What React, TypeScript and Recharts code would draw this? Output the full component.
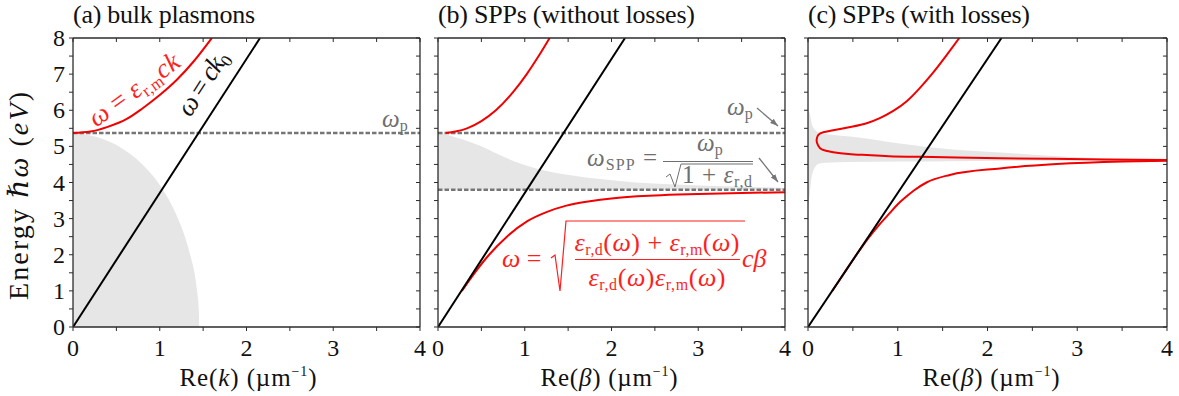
import React from 'react';
import { ComposedChart, Line, Area, XAxis, YAxis, ReferenceLine } from 'recharts';

const FONT = "'Liberation Serif', 'DejaVu Serif', serif";
const AXIS = '#2b2b2b';
const RED = '#f00000';
const RED_TEXT = '#ff1f1f';
const GREY_LINE = '#767676';
const GREY_TEXT = '#6f6f6f';
const FILL = '#e6e6e6';

// energies in eV, wavenumbers in 1/um
const OMEGA_P = 5.37;
const OMEGA_SPP = 3.8;

const X_TICKS = [0, 0.5, 1, 1.5, 2, 2.5, 3, 3.5, 4];
const Y_TICKS = [0, 0.5, 1, 1.5, 2, 2.5, 3, 3.5, 4, 4.5, 5, 5.5, 6, 6.5, 7, 7.5, 8];

// light line w = c k0
const lightK = [0, 2.156];
const lightW = [0, 8];

// (a) bulk plasmons
const bulkK = [0, 0.2, 0.4, 0.62, 0.8, 1.0, 1.2, 1.39, 1.6];
const bulkW = [5.37, 5.41, 5.54, 5.76, 6.05, 6.42, 6.85, 7.35, 8.0];
const bulkGrayK = [0, 0.2, 0.35, 0.53, 0.8, 0.98, 1.11, 1.21, 1.29, 1.35, 1.4, 1.43, 1.45, 1.455];
const bulkGrayW = [5.37, 5.3, 5.2, 5.0, 4.5, 4.0, 3.5, 3.0, 2.5, 2.0, 1.5, 1.0, 0.5, 0];

// (b) SPPs without losses
const sppUpperB = [0.09, 0.2, 0.335, 0.5, 0.667, 0.865, 1.023, 1.16, 1.287];
const sppUpperW = [5.37, 5.41, 5.5, 5.7, 6.0, 6.5, 7.0, 7.5, 8.0];
const sppLowerB = [0.275, 0.423, 0.589, 0.794, 1.03, 1.25, 1.48, 1.75, 2.0, 2.5, 3.0, 3.5, 4.0];
const sppLowerW = [1.0, 1.5, 2.0, 2.5, 2.93, 3.18, 3.36, 3.48, 3.56, 3.64, 3.68, 3.71, 3.73];
const sppGrayB = [0, 0.09, 0.2, 0.36, 0.55, 0.75, 0.94, 1.13, 1.51, 1.9, 2.28, 2.67, 3.1, 3.5, 4.0];
const sppGrayTop = [5.37, 5.33, 5.25, 5.13, 4.95, 4.72, 4.53, 4.39, 4.21, 4.09, 4.0, 3.95, 3.91, 3.88, 3.85];

// (c) SPPs with losses
const lossUpperB = [1.686, 1.53, 1.38, 1.24, 1.1, 0.95, 0.8, 0.654, 0.5, 0.357, 0.25, 0.17, 0.115, 0.097, 0.1, 0.134, 0.2, 0.28, 0.45, 0.654, 0.9, 1.25, 1.66, 2.14, 2.7, 3.3, 4.0];
const lossUpperW = [8.0, 7.48, 7.0, 6.6, 6.25, 5.98, 5.78, 5.64, 5.55, 5.48, 5.43, 5.39, 5.32, 5.2, 5.1, 4.95, 4.88, 4.84, 4.79, 4.76, 4.73, 4.71, 4.69, 4.67, 4.655, 4.635, 4.62];
const lossLowerB = [0.27, 0.4, 0.54, 0.66, 0.8, 0.91, 1.0, 1.09, 1.18, 1.32, 1.58, 2.14, 2.77, 3.51, 4.0];
const lossLowerW = [1.0, 1.48, 2.0, 2.42, 2.85, 3.15, 3.4, 3.6, 3.78, 4.0, 4.21, 4.39, 4.51, 4.58, 4.6];
const lossGrayB = [0, 0.02, 0.04, 0.08, 0.12, 0.2, 0.47, 1.02, 1.58, 2.14, 2.7, 3.3, 4.0];
const lossGrayLo = [3.3, 3.7, 4.15, 4.43, 4.52, 4.55, 4.57, 4.58, 4.59, 4.6, 4.6, 4.61, 4.61];
const lossGrayHi = [6.0, 5.9, 5.65, 5.45, 5.38, 5.34, 5.27, 5.08, 4.92, 4.83, 4.74, 4.67, 4.63];

const pts = (xs: number[], ys: number[]) => xs.map((x, i) => ({ x, y: ys[i] }));
const band = (xs: number[], lo: number[], hi: number[]) => xs.map((x, i) => ({ x, y: [lo[i], hi[i]] }));

const TICK = 4;
const THIN = 0.01; // axes need a non-zero box to be drawn

const bottomTick = (p: any) => (
  <g>
    <line x1={p.x} y1={p.y} x2={p.x} y2={p.y + TICK} stroke={AXIS} strokeWidth={1} />
    {Number.isInteger(p.payload.value) && (
      <text x={p.x} y={p.y + 29} textAnchor="middle" fontSize={24} fontFamily={FONT} fill="#111">
        {p.payload.value}
      </text>
    )}
  </g>
);
const topTick = (p: any) => (
  <line x1={p.x} y1={p.y} x2={p.x} y2={p.y + TICK} stroke={AXIS} strokeWidth={1} />
);
const leftTick = (withLabel: boolean) => (p: any) => (
  <g>
    <line x1={p.x - TICK} y1={p.y} x2={p.x} y2={p.y} stroke={AXIS} strokeWidth={1} />
    {withLabel && Number.isInteger(p.payload.value) && (
      <text x={p.x - 8} y={p.y + 8} textAnchor="end" fontSize={24} fontFamily={FONT} fill="#111">
        {p.payload.value}
      </text>
    )}
  </g>
);
const rightTick = (p: any) => (
  <line x1={p.x - TICK} y1={p.y} x2={p.x} y2={p.y} stroke={AXIS} strokeWidth={1} />
);

const axisLine = { stroke: AXIS, strokeWidth: 1.3 };
const ids = { xAxisId: 'b', yAxisId: 'l' };

function Panel({ left, width, marginLeft, yLabels, children }: any) {
  return (
    <div style={{ position: 'absolute', left, top: 0 }}>
      <ComposedChart width={width} height={396} margin={{ top: 38, right: 12, bottom: 69, left: marginLeft }}>
        <XAxis xAxisId="b" dataKey="x" type="number" domain={[0, 4]} ticks={X_TICKS} interval={0}
          height={THIN} tickSize={0} tickMargin={0} tickLine={false} axisLine={axisLine} tick={bottomTick} allowDataOverflow />
        <XAxis xAxisId="t" orientation="top" dataKey="x" type="number" domain={[0, 4]} ticks={X_TICKS} interval={0}
          height={THIN} tickSize={0} tickMargin={0} tickLine={false} axisLine={axisLine} tick={topTick} allowDataOverflow />
        <YAxis yAxisId="l" type="number" domain={[0, 8]} ticks={Y_TICKS} interval={0}
          width={THIN} tickSize={0} tickMargin={0} tickLine={false} axisLine={axisLine} tick={leftTick(yLabels)} allowDataOverflow />
        <YAxis yAxisId="r" orientation="right" type="number" domain={[0, 8]} ticks={Y_TICKS} interval={0}
          width={THIN} tickSize={0} tickMargin={0} tickLine={false} axisLine={axisLine} tick={rightTick} allowDataOverflow />
        {children}
      </ComposedChart>
    </div>
  );
}

const dashed = { stroke: GREY_LINE, strokeWidth: 2.6, strokeDasharray: '4.5 2' };

function Overlay() {
  return (
    <svg width={1179} height={396} style={{ position: 'absolute', left: 0, top: 0 }} fontFamily={FONT}>
      <defs>
        <marker id="head" viewBox="0 0 10 10" refX="10" refY="5" markerWidth="8" markerHeight="8"
          markerUnits="userSpaceOnUse" orient="auto">
          <path d="M0,1.5 L10,5 L0,8.5 Z" fill={GREY_LINE} />
        </marker>
      </defs>

      {/* panel titles */}
      <text x={73} y={23} fontSize={26} textLength={182} lengthAdjust="spacing" fill="#111">(a) bulk plasmons</text>
      <text x={438} y={23} fontSize={26} textLength={257} lengthAdjust="spacing" fill="#111">(b) SPPs (without losses)</text>
      <text x={808} y={23} fontSize={26} textLength={222} lengthAdjust="spacing" fill="#111">(c) SPPs (with losses)</text>

      {/* axis titles */}
      <text transform="translate(28,196) rotate(-90)" textAnchor="middle" fontSize={28} textLength={208} lengthAdjust="spacing" fill="#111">
        Energy <tspan fontStyle="italic">ℏω</tspan> (<tspan fontStyle="italic">eV</tspan>)
      </text>
      <text x={248} y={386} textAnchor="middle" fontSize={25} textLength={137} lengthAdjust="spacing" fill="#111">
        Re(<tspan fontStyle="italic">k</tspan>) (µm<tspan dy={-10} fontSize={14}>−1</tspan><tspan dy={10}>)</tspan>
      </text>
      <text x={609} y={386} textAnchor="middle" fontSize={25} textLength={137} lengthAdjust="spacing" fill="#111">
        Re(<tspan fontStyle="italic">β</tspan>) (µm<tspan dy={-10} fontSize={14}>−1</tspan><tspan dy={10}>)</tspan>
      </text>
      <text x={991} y={386} textAnchor="middle" fontSize={25} textLength={137} lengthAdjust="spacing" fill="#111">
        Re(<tspan fontStyle="italic">β</tspan>) (µm<tspan dy={-10} fontSize={14}>−1</tspan><tspan dy={10}>)</tspan>
      </text>

      {/* (a) annotations */}
      <text transform="translate(135,91) rotate(-36)" x={0} y={7} textAnchor="middle" fontSize={27} textLength={106} lengthAdjust="spacing" fill={RED_TEXT}>
        <tspan fontStyle="italic">ω</tspan> = <tspan fontStyle="italic">ε</tspan>
        <tspan fontSize={17} dy={5}>r,m</tspan>
        <tspan dy={-5} fontStyle="italic">ck</tspan>
      </text>
      <text transform="translate(204,84) rotate(-57)" x={0} y={7} textAnchor="middle" fontSize={27} textLength={72} lengthAdjust="spacing" fill="#111">
        <tspan fontStyle="italic">ω</tspan> = <tspan fontStyle="italic">ck</tspan>
        <tspan fontSize={17} dy={5}>0</tspan>
      </text>
      <text x={382} y={127} fontSize={25} fill={GREY_TEXT}>
        <tspan fontStyle="italic">ω</tspan><tspan fontSize={16} dy={4}>p</tspan>
      </text>

      {/* (b) annotations */}
      <text x={727} y={115} fontSize={25} fill={GREY_TEXT}>
        <tspan fontStyle="italic">ω</tspan><tspan fontSize={16} dy={4}>p</tspan>
      </text>
      <line x1={757} y1={108} x2={778} y2={126} stroke={GREY_LINE} strokeWidth={1.3} markerEnd="url(#head)" />

      <text x={587} y={166} fontSize={25} textLength={70} lengthAdjust="spacing" fill={GREY_TEXT}>
        <tspan fontStyle="italic">ω</tspan><tspan fontSize={16} dy={4}>SPP</tspan><tspan dy={-4}> =</tspan>
      </text>
      <text x={697} y={151} fontSize={25} fill={GREY_TEXT}>
        <tspan fontStyle="italic">ω</tspan><tspan fontSize={16} dy={4}>p</tspan>
      </text>
      <line x1={663} y1={161.5} x2={753} y2={161.5} stroke={GREY_TEXT} strokeWidth={1} />
      <path d="M666,177 L670,174 L675,187 L681,164 L753,164" fill="none" stroke={GREY_TEXT} strokeWidth={1} />
      <text x={682} y={183} fontSize={25} textLength={70} lengthAdjust="spacing" fill={GREY_TEXT}>
        1 + <tspan fontStyle="italic">ε</tspan><tspan fontSize={16} dy={4}>r,d</tspan>
      </text>
      <line x1={759} y1={158} x2={778} y2={182} stroke={GREY_LINE} strokeWidth={1.3} markerEnd="url(#head)" />

      <text x={502} y={267} fontSize={26} fill={RED_TEXT}>
        <tspan fontStyle="italic">ω</tspan> =
      </text>
      <path d="M551,258 L555,255 L560,291 L566,221 L745,221" fill="none" stroke={RED_TEXT} strokeWidth={1.2} />
      <text x={657} y={251} textAnchor="middle" fontSize={26} textLength={165} lengthAdjust="spacing" fill={RED_TEXT}>
        <tspan fontStyle="italic">ε</tspan><tspan fontSize={16} dy={4}>r,d</tspan><tspan dy={-4}>(</tspan>
        <tspan fontStyle="italic">ω</tspan>) + <tspan fontStyle="italic">ε</tspan>
        <tspan fontSize={16} dy={4}>r,m</tspan><tspan dy={-4}>(</tspan><tspan fontStyle="italic">ω</tspan>)
      </text>
      <line x1={575} y1={259.5} x2={740} y2={259.5} stroke={RED_TEXT} strokeWidth={1.1} />
      <text x={657} y={286} textAnchor="middle" fontSize={26} textLength={137} lengthAdjust="spacing" fill={RED_TEXT}>
        <tspan fontStyle="italic">ε</tspan><tspan fontSize={16} dy={4}>r,d</tspan><tspan dy={-4}>(</tspan>
        <tspan fontStyle="italic">ω</tspan>)<tspan fontStyle="italic">ε</tspan>
        <tspan fontSize={16} dy={4}>r,m</tspan><tspan dy={-4}>(</tspan><tspan fontStyle="italic">ω</tspan>)
      </text>
      <text x={742} y={267} fontSize={26} fill={RED_TEXT} fontStyle="italic">cβ</text>
    </svg>
  );
}

export default function App() {
  return (
    <div style={{ position: 'absolute', left: 0, top: 0, width: 1179, height: 396, background: '#fff', fontFamily: FONT }}>
      <Panel left={0} width={432} marginLeft={73} yLabels>
        <Area {...ids} data={pts(bulkGrayK, bulkGrayW)} dataKey="y" type="monotone" stroke="none" fill={FILL} fillOpacity={1} isAnimationActive={false} />
        <ReferenceLine {...ids} y={OMEGA_P} {...dashed} />
        <Line {...ids} data={pts(bulkK, bulkW)} dataKey="y" type="monotone" stroke={RED} strokeWidth={2} dot={false} isAnimationActive={false} />
        <Line {...ids} data={pts(lightK, lightW)} dataKey="y" type="linear" stroke="#000" strokeWidth={2} dot={false} isAnimationActive={false} />
      </Panel>
      <Panel left={425} width={372} marginLeft={13} yLabels={false}>
        <Area {...ids} data={band(sppGrayB, sppGrayB.map(() => OMEGA_SPP), sppGrayTop)} dataKey="y" type="monotone" stroke="none" fill={FILL} fillOpacity={1} isAnimationActive={false} />
        <ReferenceLine {...ids} y={OMEGA_P} {...dashed} />
        <ReferenceLine {...ids} y={OMEGA_SPP} {...dashed} />
        <Line {...ids} data={pts(sppUpperB, sppUpperW)} dataKey="y" type="monotone" stroke={RED} strokeWidth={2} dot={false} isAnimationActive={false} />
        <Line {...ids} data={pts(sppLowerB, sppLowerW)} dataKey="y" type="monotone" stroke={RED} strokeWidth={2} dot={false} isAnimationActive={false} />
        <Line {...ids} data={pts(lightK, lightW)} dataKey="y" type="linear" stroke="#000" strokeWidth={2} dot={false} isAnimationActive={false} />
      </Panel>
      <Panel left={790} width={389} marginLeft={18} yLabels={false}>
        <Area {...ids} data={band(lossGrayB, lossGrayLo, lossGrayHi)} dataKey="y" type="monotone" stroke="none" fill={FILL} fillOpacity={1} isAnimationActive={false} />
        <Line {...ids} data={pts(lossUpperB, lossUpperW)} dataKey="y" type="natural" stroke={RED} strokeWidth={2} dot={false} isAnimationActive={false} />
        <Line {...ids} data={pts(lossLowerB, lossLowerW)} dataKey="y" type="monotone" stroke={RED} strokeWidth={2} dot={false} isAnimationActive={false} />
        <Line {...ids} data={pts(lightK, lightW)} dataKey="y" type="linear" stroke="#000" strokeWidth={2} dot={false} isAnimationActive={false} />
      </Panel>
      <Overlay />
    </div>
  );
}
